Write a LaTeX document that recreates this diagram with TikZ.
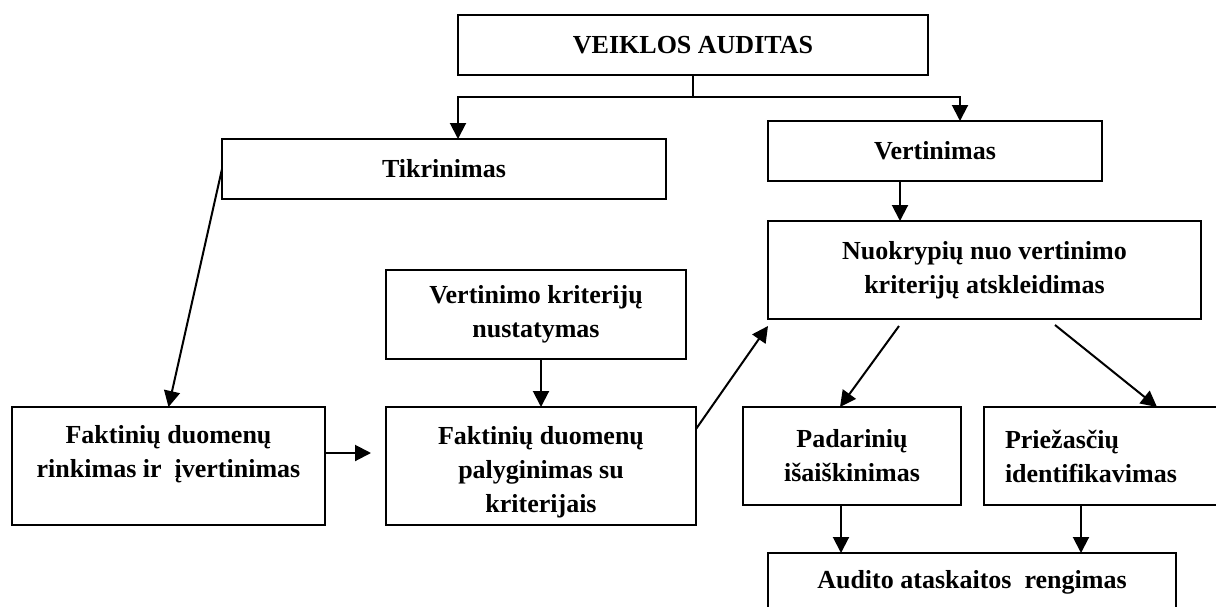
\documentclass[tikz,border=0pt]{standalone}
\usepackage{fontspec}
\setmainfont{Liberation Serif}
\usetikzlibrary{positioning}
\usetikzlibrary{arrows.meta}
\tikzset{box/.style = {draw, line width=1pt, rectangle, inner sep=0pt, outer sep=0pt,
                       align=center,
                       font=\fontsize{13pt}{17pt}\selectfont\bfseries}}
\tikzset{arr/.style = {line width=1pt, -{Triangle[length=8pt,width=8pt]}}}

\begin{document}
\begin{tikzpicture}[x=0.5pt, y=-0.5pt]
      \useasboundingbox (0,0) rectangle (1216,606);
      \clip (0,0) rectangle (1216,606);

      \node[box, minimum width=235pt, minimum height=30pt] (audit) at (693,45) {VEIKLOS AUDITAS};
      \node[box, minimum width=222pt, minimum height=30pt] (tikr) at (444,169) {Tikrinimas};
      \node[box, minimum width=167pt, minimum height=30pt] (vert) at (935,151) {Vertinimas};
      \node[box, minimum width=216.5pt, minimum height=49pt] (nuok) at (984.5,270)
            {Nuokrypių nuo vertinimo\\kriterijų atskleidimas};
      \node[box, minimum width=150pt, minimum height=44.5pt] (kritnust) at (536,314.5)
            {Vertinimo kriterijų\\nustatymas};
      \node[box, minimum width=156.5pt, minimum height=59pt] (rink) at (168.5,466)
            {\rule{0pt}{11pt}Faktinių duomenų\\rinkimas ir \ įvertinimas\\\mbox{}};
      \node[box, minimum width=155pt, minimum height=59pt] (palyg) at (541,466)
            {\rule{0pt}{15.5pt}Faktinių duomenų\\palyginimas su\\kriterijais};
      \node[box, minimum width=109pt, minimum height=49pt] (padar) at (852,456)
            {Padarinių\\išaiškinimas};
      \node[box, text width=98pt, inner xsep=10.5pt, align=left, minimum height=49pt] (priez) at (1103,456)
            {Priežasčių\\identifikavimas};
      \node[box, minimum width=204pt, minimum height=43pt] (audito) at (972,596)
            {Audito ataskaitos \ rengimas\\\mbox{}};

      % veiklos auditas -> tikrinimas, vertinimas
      \coordinate (split) at (693,97);
      \draw[line width=1pt] (audit.south) -- (split);
      \draw[arr] (split) -| (audit.west |- tikr.north);
      \draw[arr] (split) -| ([xshift=12.5pt]vert.north);

      \draw[arr] (tikr.west) -- (rink.north);
      \draw[arr, shorten >=7.5pt] ([yshift=6.5pt]rink.east) -- ([yshift=6.5pt]palyg.west);
      \draw[arr] (kritnust.south -| palyg.north) -- (palyg.north);
      \draw[arr] ([yshift=-11pt]palyg.north east) -- ([yshift=-3.5pt]nuok.south west);

      \coordinate (vdrop) at ([xshift=-17.5pt]vert.south);
      \draw[arr] (vdrop) -- (vdrop |- nuok.north);

      \draw[arr] ([shift={(-42.75pt,-3.5pt)}]nuok.south) -- ([xshift=-6pt]padar.north);
      \draw[arr] ([shift={(35.25pt,-3pt)}]nuok.south) -- ([xshift=27pt]priez.north);

      \coordinate (pdrop) at ([xshift=-5.5pt]padar.south);
      \coordinate (zdrop) at ([xshift=-11pt]priez.south);
      \draw[arr] (pdrop) -- (pdrop |- audito.north);
      \draw[arr] (zdrop) -- (zdrop |- audito.north);
\end{tikzpicture}
\end{document}
